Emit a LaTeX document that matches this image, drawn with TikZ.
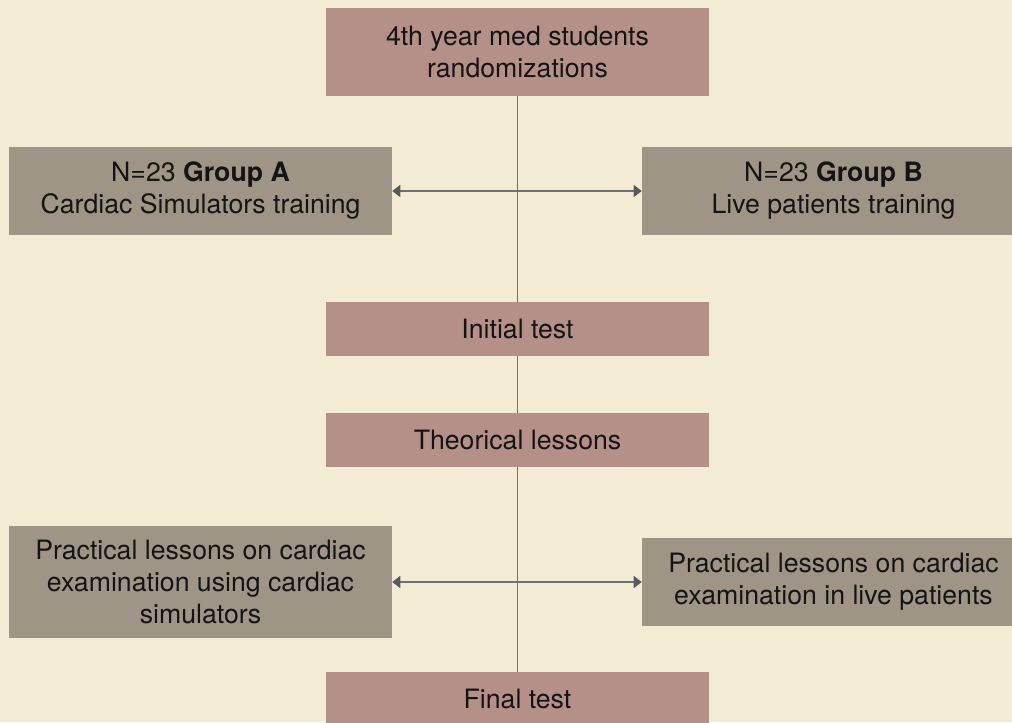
\documentclass[tikz,border=0pt]{standalone}
\usepackage{fontspec}
\setmainfont{TeX Gyre Heros}
\usetikzlibrary{arrows.meta}
\definecolor{bgcream}{RGB}{242,236,212}
\definecolor{stagepink}{RGB}{181,144,137}
\definecolor{armgray}{RGB}{158,149,134}
\definecolor{linegray}{RGB}{112,112,112}
\definecolor{tipgray}{RGB}{85,90,95}
\definecolor{textdark}{RGB}{20,20,20}
\begin{document}
\begin{tikzpicture}[
        x=0.75pt, y=-0.75pt,
        box/.style={inner sep=0pt, align=center, minimum width=287.25pt, text=textdark, font=\fontsize{20}{24}\selectfont},
        stage/.style={box, fill=stagepink, minimum height=40.5pt},
        arm/.style={box, fill=armgray, minimum height=66pt},
        link/.style={draw=linegray, line width=1.1pt},
        branch/.style={link, -{Triangle[length=6pt, width=9pt, color=tipgray]}}
    ]
        % Canvas
        \clip (0,0) rectangle (1012,722);
        \fill[bgcream] (0,0) rectangle (1012,722);

        % Main sequence
        \node[stage, minimum height=66pt] (rand) at (517.5,52) {4th year med students\\randomizations};
        \node[stage] (init) at (517.5,329) {Initial test};
        \node[stage] (theory) at (517.5,440) {Theorical lessons};
        \node[stage] (final) at (517.5,699) {Final test};

        % Study arms
        \node[arm] (grpA) at (200.5,191) {N=23 \textbf{Group A}\\Cardiac Simulators training};
        \node[arm] (grpB) at (833.5,191) {N=23 \textbf{Group B}\\Live patients training};
        \node[arm, minimum height=84pt] (pracA) at (200.5,582) {Practical lessons on cardiac\\examination using cardiac\\simulators};
        \node[arm] (pracB) at (833.5,582) {Practical lessons on cardiac\\examination in live patients};

        % Junctions on the spine
        \coordinate (split1) at (517.5,191);
        \coordinate (split2) at (517.5,582);

        % Connectors
        \draw[link] (rand) -- (init);
        \draw[link] (init) -- (theory);
        \draw[link] (theory) -- (final);
        \draw[branch] (split1) -- (grpA);
        \draw[branch] (split1) -- (grpB);
        \draw[branch] (split2) -- (pracA);
        \draw[branch] (split2) -- (pracB);
    \end{tikzpicture}
\end{document}
